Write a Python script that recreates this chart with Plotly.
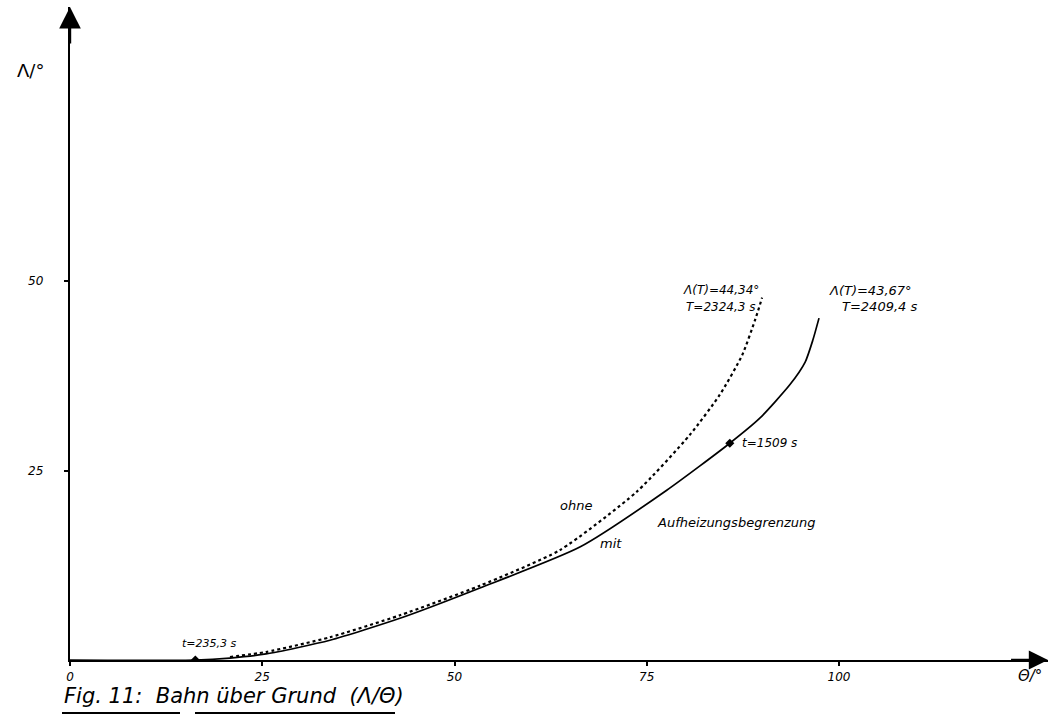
import plotly.graph_objects as go

# ---- data ----
theta_mit = [0, 16.3, 20.8, 25.5, 33.8, 42.9, 53.3, 66.3, 77.6, 85.8, 89.7, 93.6, 95.6, 96.6, 97.4]
lam_mit = [0, 0, 0.26, 0.8, 2.6, 5.5, 9.5, 14.9, 22.4, 28.6, 31.9, 36.3, 39.3, 42.2, 45.1]

theta_ohne = [20.8, 25.5, 33.8, 42.9, 53.3, 63.7, 73.7, 80.6, 84.5, 87.4, 89.1, 90.0]
lam_ohne = [0.4, 1.06, 3.0, 5.9, 9.8, 14.5, 22.2, 29.7, 35.0, 40.2, 44.9, 47.8]

marker_theta = [16.3, 85.8]
marker_lam = [0, 28.6]

x_ticks = [0, 25, 50, 75, 100]
y_ticks = [25, 50]

# ---- layout geometry ----
W, H = 1050, 726
ML, MR, MT, MB = 70, 2, 7, 66
PW, PH = W - ML - MR, H - MT - MB
XMAX = PW / 7.69
YMAX = PH / 7.58


def px(x):
    return (x - ML) / PW


def py(y):
    return (H - MB - y) / PH


FONT = "DejaVu Sans"

fig = go.Figure()
fig.add_trace(go.Scatter(x=theta_mit, y=lam_mit, mode="lines",
                         line=dict(color="black", width=1.7, shape="spline", smoothing=0.6),
                         showlegend=False, hoverinfo="skip"))
fig.add_trace(go.Scatter(x=theta_ohne, y=lam_ohne, mode="lines",
                         line=dict(color="black", width=2.2, dash="dot", shape="spline", smoothing=0.6),
                         showlegend=False, hoverinfo="skip"))
fig.add_trace(go.Scatter(x=marker_theta, y=marker_lam, mode="markers",
                         marker=dict(color="black", size=7, symbol="diamond"),
                         showlegend=False, hoverinfo="skip"))

small = dict(family=FONT, size=12, color="black", style="italic")
ann = []


def txt(x, y, s, size=12):
    f = dict(small)
    f["size"] = size
    ann.append(dict(x=x, y=y, xref="x", yref="y", text=s, showarrow=False,
                    xanchor="left", yanchor="middle", font=f))


txt(79.4, 48.8, "Λ(T)=44,34°", 12)
txt(79.8, 46.6, "T=2324,3 s", 12)
txt(98.4, 48.8, "Λ(T)=43,67°", 13)
txt(100.1, 46.6, "T=2409,4 s", 13)
txt(87.1, 28.6, "t=1509 s", 12)
txt(63.5, 20.4, "ohne", 13)
txt(76.1, 18.2, "Aufheizungsbegrenzung", 13)
txt(68.6, 15.4, "mit", 13)
txt(14.3, 2.2, "t=235,3 s", 11)

# axis arrows
ann.append(dict(x=0, y=YMAX, ax=0, ay=YMAX - 5, xref="x", yref="y", axref="x", ayref="y",
                showarrow=True, arrowhead=2, arrowsize=1.8, arrowwidth=2.4, arrowcolor="black", text=""))
ann.append(dict(x=XMAX, y=0, ax=XMAX - 5, ay=0, xref="x", yref="y", axref="x", ayref="y",
                showarrow=True, arrowhead=2, arrowsize=1.6, arrowwidth=2.4, arrowcolor="black", text=""))

# axis titles
ann.append(dict(x=px(30), y=py(70), xref="paper", yref="paper", text="Λ/°", showarrow=False,
                font=dict(family=FONT, size=18, color="black"), xanchor="center", yanchor="middle"))
ann.append(dict(x=px(1030), y=py(676), xref="paper", yref="paper", text="Θ/°", showarrow=False,
                font=dict(family=FONT, size=15, color="black", style="italic"), xanchor="center", yanchor="middle"))

# caption
ann.append(dict(x=px(62), y=py(696), xref="paper", yref="paper",
                text="Fig. 11:  Bahn über Grund  (Λ/Θ)", showarrow=False,
                font=dict(family=FONT, size=21, color="black", style="italic"),
                xanchor="left", yanchor="middle"))

shapes = [
    dict(type="line", xref="paper", yref="paper", x0=px(62), x1=px(180), y0=py(713), y1=py(713),
         line=dict(color="black", width=2)),
    dict(type="line", xref="paper", yref="paper", x0=px(195), x1=px(395), y0=py(713), y1=py(713),
         line=dict(color="black", width=2)),
]

fig.update_layout(
    width=W, height=H,
    margin=dict(l=ML, r=MR, t=MT, b=MB),
    paper_bgcolor="white", plot_bgcolor="white",
    annotations=ann, shapes=shapes,
    xaxis=dict(range=[0, XMAX], tickvals=x_ticks, showgrid=False, zeroline=False,
               showline=True, linecolor="black", linewidth=2.4, ticks="outside", ticklen=4,
               tickwidth=2, tickcolor="black", tickfont=small),
    yaxis=dict(range=[0, YMAX], tickvals=y_ticks, showgrid=False, zeroline=False,
               showline=True, linecolor="black", linewidth=2.4, ticks="outside", ticklen=4,
               tickwidth=2, tickcolor="black", tickfont=small, ticklabelstandoff=18),
)

fig.write_html("out.html")
